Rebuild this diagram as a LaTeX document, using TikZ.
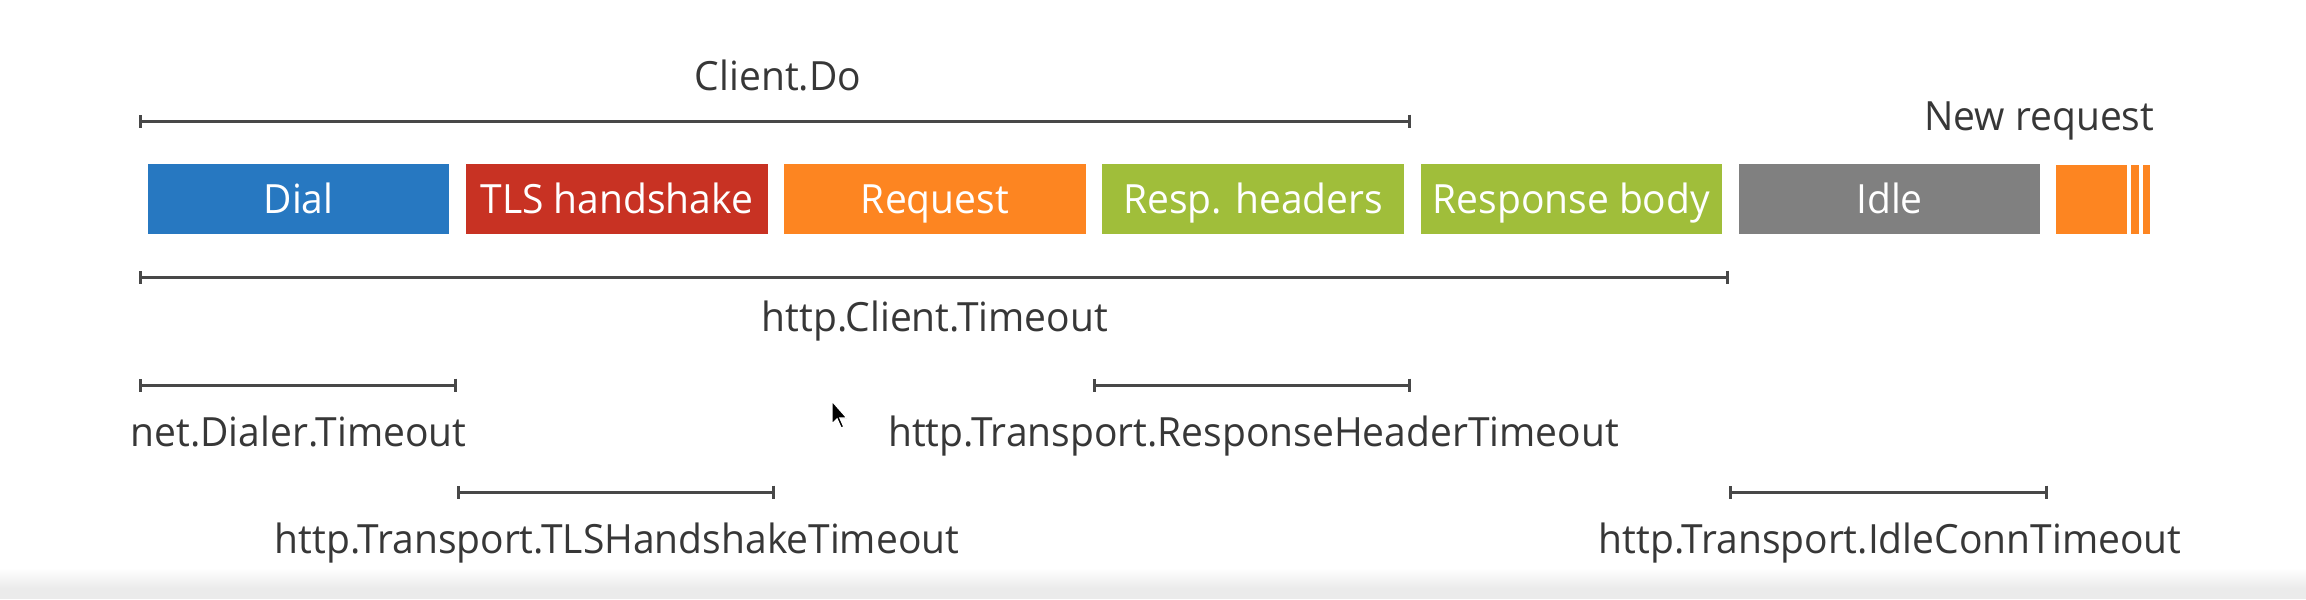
\documentclass[tikz,border=0pt]{standalone}
\usepackage{fontspec}
\setmainfont[FakeStretch=0.968]{Open Sans}
\usetikzlibrary{arrows.meta}
\definecolor{dialblue}{RGB}{39,120,193}
\definecolor{tlsred}{RGB}{200,50,35}
\definecolor{reqorange}{RGB}{253,133,33}
\definecolor{respgreen}{RGB}{160,190,58}
\definecolor{idlegray}{RGB}{128,128,128}
\definecolor{txt}{RGB}{55,55,55}
\definecolor{spanline}{RGB}{72,72,72}
\tikzset{
  phase/.style={fill=#1, draw=none, minimum width=3.015cm, minimum height=0.69cm,
    inner sep=0pt, anchor=west, text=white, text height=8.2pt, text depth=0pt,
    font=\fontsize{11.45pt}{13.5pt}\selectfont},
  lbl/.style={text=txt, inner sep=0pt, anchor=base, font=\fontsize{11.45pt}{13.5pt}\selectfont},
  span/.style={draw=spanline, line width=0.03cm, {Bar[width=0.13cm]}-{Bar[width=0.13cm]}}
}
\begin{document}
\begin{tikzpicture}[x=0.01cm,y=-0.01cm]
\useasboundingbox (0,0) rectangle (2306,599);
\fill[white] (0,0) rectangle (2306,599);
% bottom band
\shade[top color=white,bottom color=black!8] (0,568) rectangle (2306,588);
\fill[black!8] (0,588) rectangle (2306,599);

% phases
\node[phase=dialblue]   (dial) at (147,199)    {Dial};
\node[phase=tlsred]     (tls)  at (465.2,199)  {TLS handshake};
\node[phase=reqorange]  (req)  at (783.4,199)  {Request};
\node[phase=respgreen]  (hdr)  at (1101.6,199) {Resp. headers};
\node[phase=respgreen]  (body) at (1419.8,199) {Response body};
\node[phase=idlegray]   (idle) at (1738,199)   {Idle};
\fill[reqorange] (2056,164.5) rectangle (2127,233.5);
\fill[reqorange] (2131,164.5) rectangle (2139,233.5);
\fill[reqorange] (2143,164.5) rectangle (2150,233.5);

% gap coordinates
\coordinate (g0) at (139,0);
\coordinate (g1) at (456.6,0);
\coordinate (g2) at (774.8,0);
\coordinate (g3) at (1093,0);
\coordinate (g4) at (1411.2,0);
\coordinate (g5) at (1729.4,0);
\coordinate (g6) at (2047.6,0);

% Client.Do
\draw[span] (g0 |- 0,121) -- (g4 |- 0,121);
\node[lbl] (cdo) at (778,90) {Client.Do};
\node[lbl, anchor=base east] (newreq) at (2155,130) {New request};

% http.Client.Timeout
\draw[span] (g0 |- 0,277) -- (g5 |- 0,277);
\node[lbl] (cto) at (935,331) {http.Client.Timeout};

% net.Dialer.Timeout
\draw[span] (g0 |- 0,385) -- (g1 |- 0,385);
\node[lbl] (dto) at (298.5,446) {net.Dialer.Timeout};

% ResponseHeaderTimeout
\draw[span] (g3 |- 0,385) -- (g4 |- 0,385);
\node[lbl] (rto) at (1253.5,446) {http.Transport.ResponseHeaderTimeout};

% TLSHandshakeTimeout
\draw[span] (g1 |- 0,492) -- (g2 |- 0,492);
\node[lbl] (tto) at (617,553) {http.Transport.TLSHandshakeTimeout};

% IdleConnTimeout
\draw[span] (g5 |- 0,492) -- (g6 |- 0,492);
\node[lbl] (ito) at (1890,553) {http.Transport.IdleConnTimeout};

% mouse cursor
\filldraw[fill=black, draw=white, line width=0.4pt]
  (832,401) -- (832,424) -- (837,419) -- (841,428) -- (844,427) -- (840,418) -- (847,418) -- cycle;
\end{tikzpicture}
\end{document}
